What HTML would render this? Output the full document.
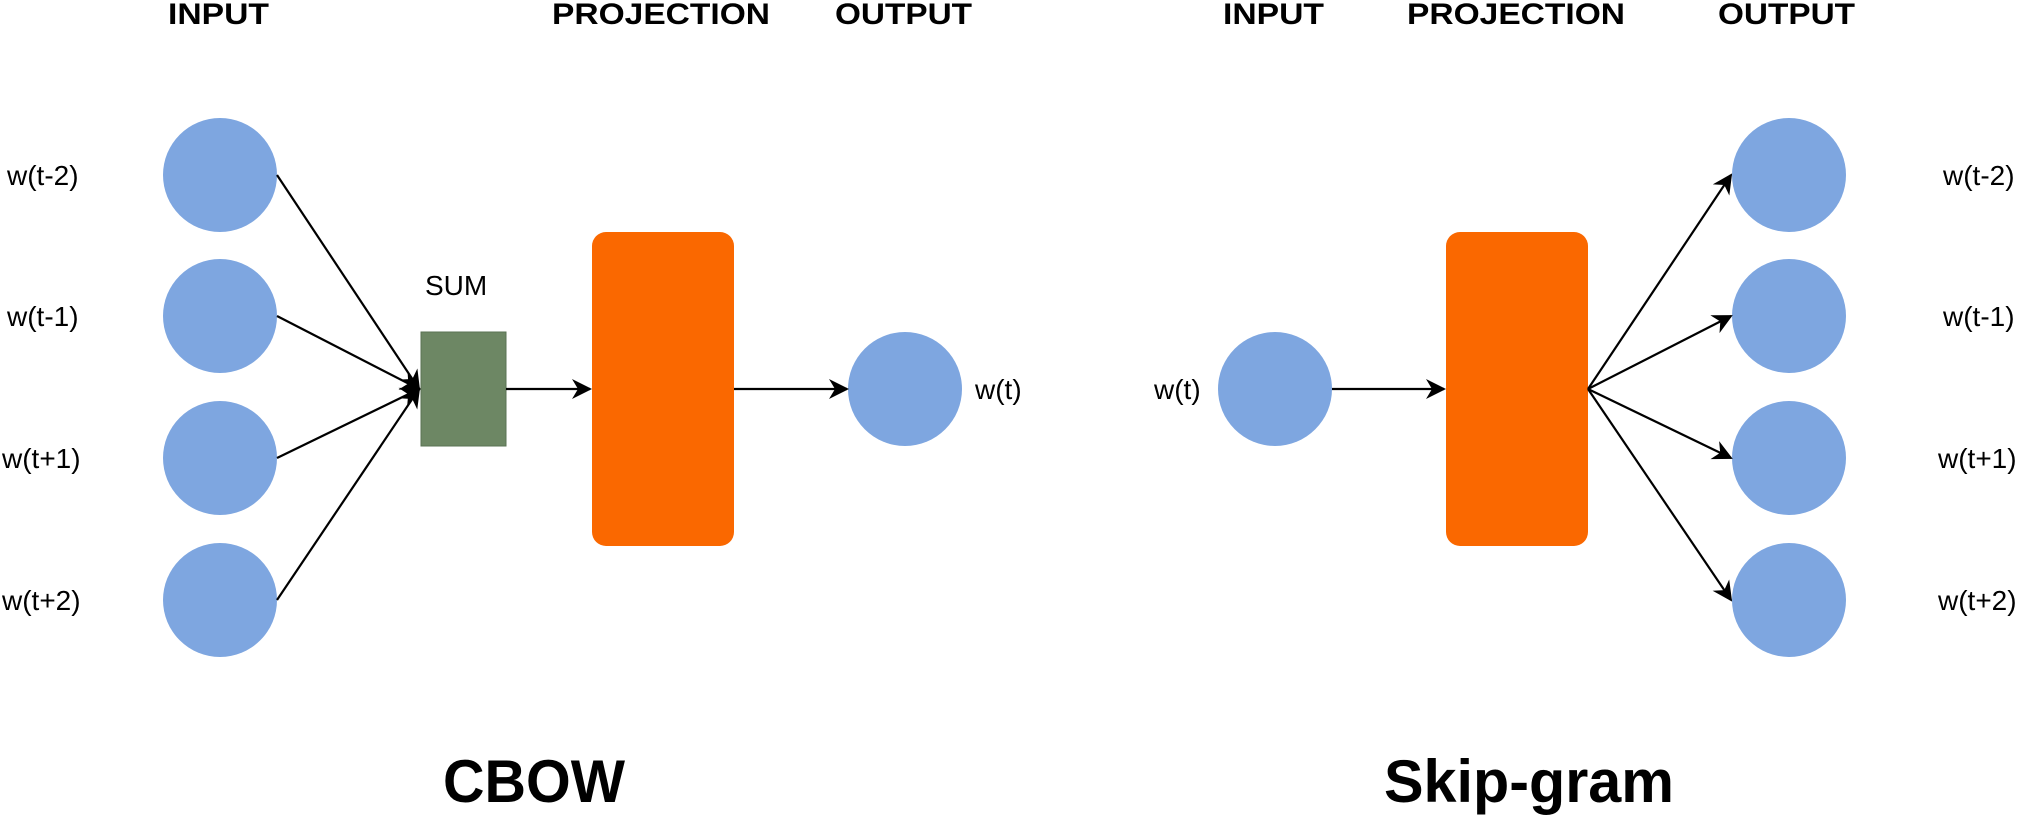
<!DOCTYPE html>
<html><head><style>html,body{margin:0;padding:0;background:#fff}svg{display:block}</style></head>
<body>
<svg width="2032" height="816" viewBox="0 0 2032 816" xmlns="http://www.w3.org/2000/svg" font-family="Liberation Sans, sans-serif">
<defs>
<marker id="a" viewBox="0 0 20 20" refX="18" refY="10" markerWidth="20" markerHeight="20" markerUnits="userSpaceOnUse" orient="auto">
<path d="M0,0 L20,10 L0,20 L6,10 Z" fill="#000"/>
</marker>
</defs>
<g font-weight="bold" font-size="30" fill="#000">
<text x="168" y="24" textLength="101" lengthAdjust="spacingAndGlyphs">INPUT</text>
<text x="552" y="24" textLength="218" lengthAdjust="spacingAndGlyphs">PROJECTION</text>
<text x="835" y="24" textLength="137" lengthAdjust="spacingAndGlyphs">OUTPUT</text>
<text x="1223" y="24" textLength="101" lengthAdjust="spacingAndGlyphs">INPUT</text>
<text x="1407" y="24" textLength="218" lengthAdjust="spacingAndGlyphs">PROJECTION</text>
<text x="1718" y="24" textLength="137" lengthAdjust="spacingAndGlyphs">OUTPUT</text>
<text x="443" y="802" font-size="60" textLength="182" lengthAdjust="spacingAndGlyphs">CBOW</text>
<text x="1384" y="802" font-size="60" textLength="290" lengthAdjust="spacingAndGlyphs">Skip-gram</text>
</g>
<g fill="#7ea6e0">
<ellipse cx="220" cy="175" rx="57" ry="57"/>
<ellipse cx="220" cy="316" rx="57" ry="57"/>
<ellipse cx="220" cy="458" rx="57" ry="57"/>
<ellipse cx="220" cy="600" rx="57" ry="57"/>
<ellipse cx="905" cy="389" rx="57" ry="57"/>
<ellipse cx="1275" cy="389" rx="57" ry="57"/>
<ellipse cx="1789" cy="175" rx="57" ry="57"/>
<ellipse cx="1789" cy="316" rx="57" ry="57"/>
<ellipse cx="1789" cy="458" rx="57" ry="57"/>
<ellipse cx="1789" cy="600" rx="57" ry="57"/>
</g>
<rect x="421" y="332" width="85" height="114" fill="#6d8764" stroke="#5a7353" stroke-width="1"/>
<rect x="592" y="232" width="142" height="314" rx="14" fill="#fa6800"/>
<rect x="1446" y="232" width="142" height="314" rx="14" fill="#fa6800"/>
<g stroke="#000" stroke-width="2.2" fill="none" marker-end="url(#a)">
<line x1="277" y1="175" x2="419" y2="389"/>
<line x1="277" y1="316" x2="419" y2="389"/>
<line x1="277" y1="458" x2="419" y2="389"/>
<line x1="277" y1="600" x2="419" y2="389"/>
<line x1="506" y1="389" x2="590" y2="389"/>
<line x1="734" y1="389" x2="847" y2="389"/>
<line x1="1332" y1="389" x2="1444" y2="389"/>
<line x1="1588" y1="389" x2="1731" y2="175"/>
<line x1="1588" y1="389" x2="1731" y2="316"/>
<line x1="1588" y1="389" x2="1731" y2="458"/>
<line x1="1588" y1="389" x2="1731" y2="600"/>
</g>
<g font-size="28" fill="#000">
<text x="7" y="185">w(t-2)</text>
<text x="7" y="326">w(t-1)</text>
<text x="2" y="468">w(t+1)</text>
<text x="2" y="610">w(t+2)</text>
<text x="425" y="295">SUM</text>
<text x="975" y="399">w(t)</text>
<text x="1154" y="399">w(t)</text>
<text x="1943" y="185">w(t-2)</text>
<text x="1943" y="326">w(t-1)</text>
<text x="1938" y="468">w(t+1)</text>
<text x="1938" y="610">w(t+2)</text>
</g>
</svg>
</body></html>
